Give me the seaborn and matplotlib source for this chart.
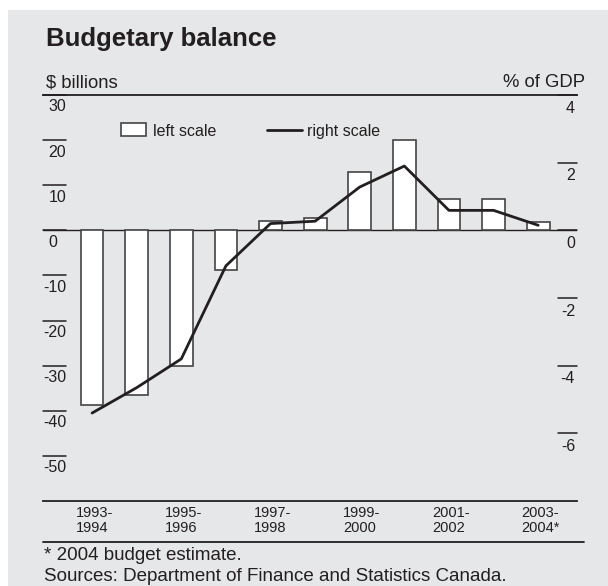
import numpy as np
import pandas as pd
import matplotlib
matplotlib.use("Agg")
import matplotlib.pyplot as plt
import matplotlib.transforms as mtransforms
from matplotlib.patches import Rectangle
from matplotlib.lines import Line2D
import seaborn as sns

# ---------------- data ----------------
years = ["1993-1994", "1994-1995", "1995-1996", "1996-1997", "1997-1998",
         "1998-1999", "1999-2000", "2000-2001", "2001-2002", "2002-2003",
         "2003-2004*"]
balance_billions = [-38.7, -36.6, -30.0, -8.7, 2.1, 2.8, 13.0, 20.1, 6.9, 6.9, 1.8]
balance_pct_gdp = [-5.4, -4.65, -3.8, -1.05, 0.2, 0.27, 1.28, 1.9, 0.59, 0.59, 0.15]
left_ticks = [30, 20, 10, 0, -10, -20, -30, -40, -50]
right_ticks = [4, 2, 0, -2, -4, -6]
x_label_index = [0, 2, 4, 6, 8, 10]
x_labels = ["1993-\n1994", "1995-\n1996", "1997-\n1998", "1999-\n2000",
            "2001-\n2002", "2003-\n2004*"]

# ---------------- style ----------------
sns.set_theme(style="white")
plt.rcParams["font.family"] = ["Liberation Sans", "DejaVu Sans"]
BG = "#e6e7e8"
DARK = "#231f20"
EDGE = "#444444"

W, H = 608, 586
fig = plt.figure(figsize=(W / 100, H / 100), dpi=100, facecolor="white")
fig.patches.append(Rectangle((8 / W, 0), 1, 1 - 10 / H, transform=fig.transFigure,
                             facecolor=BG, edgecolor="none", zorder=-10))

ax = fig.add_axes([43 / W, 1 - 501 / H, 534 / W, 406 / H])
ax.set_facecolor("none")

df = pd.DataFrame({"year": years, "billions": balance_billions, "pct": balance_pct_gdp})
sns.barplot(data=df, x="year", y="billions", order=years, color="white",
            saturation=1, edgecolor=EDGE, linewidth=1.2, width=0.51, ax=ax, zorder=2)
ax.set_ylim(-60, 30)
ax.set_xlim(-1.1, 10.87)
ax.set_xlabel("")
ax.set_ylabel("")

ax2 = ax.twinx()
sns.lineplot(x=np.arange(len(years)), y=balance_pct_gdp, ax=ax2, color=DARK,
             linewidth=2.0, zorder=3)
ax2.set_ylim(-8, 4)
ax2.set_xlim(-1.1, 10.87)
ax2.set_xlabel("")
ax2.set_ylabel("")

for a in (ax, ax2):
    a.tick_params(left=False, right=False, bottom=False, top=False,
                  labelleft=False, labelright=False, labelbottom=False)
    for s in a.spines.values():
        s.set_visible(False)
ax.spines["top"].set_visible(True)
ax.spines["bottom"].set_visible(True)
for s in ("top", "bottom"):
    ax.spines[s].set_color(DARK)
    ax.spines[s].set_linewidth(1.3)

ax.axhline(0, color=DARK, lw=1.0, zorder=1)

tick_fs = 11.5
left_tr = mtransforms.blended_transform_factory(ax.transAxes, ax.transData)
right_tr = mtransforms.blended_transform_factory(ax2.transAxes, ax2.transData)
down = mtransforms.ScaledTranslation(0, -12 / 100, fig.dpi_scale_trans)
for v in left_ticks:
    ax.plot([0, 0.043], [v, v], transform=left_tr, color=DARK, lw=1.1, clip_on=False)
    x0 = 0.0 if v < 0 else 0.0099
    ax.text(x0, v, str(v), transform=left_tr + down, ha="left", va="center",
            fontsize=tick_fs, color=DARK)
down_r = mtransforms.ScaledTranslation(0, -13 / 100, fig.dpi_scale_trans)
for v in right_ticks:
    ax2.plot([0.964, 1.0], [v, v], transform=right_tr, color=DARK, lw=1.1, clip_on=False)
    ax2.text(0.9963, v, str(v), transform=right_tr + down_r, ha="right", va="center",
             fontsize=tick_fs, color=DARK)

# x labels
xl_tr = mtransforms.blended_transform_factory(ax.transData, ax.transAxes) + \
    mtransforms.ScaledTranslation(2.3 / 100, -5 / 100, fig.dpi_scale_trans)
for i, lab in zip(x_label_index, x_labels):
    ax.text(i, 0, lab, transform=xl_tr, ha="center", va="top", multialignment="left",
            fontsize=10.5, linespacing=1.1, color=DARK)

# legend
ax.add_patch(Rectangle((0.1455, 0.899), 0.0468, 0.0328, transform=ax.transAxes,
                       facecolor="white", edgecolor=EDGE, lw=1.2, clip_on=False))
ax.text(0.206, 0.9113, "left scale", transform=ax.transAxes, ha="left", va="center",
        fontsize=11.5, color=DARK)
ax.add_line(Line2D([0.419, 0.4845], [0.9138, 0.9138], transform=ax.transAxes,
                   color=DARK, lw=2.0, clip_on=False))
ax.text(0.4938, 0.9113, "right scale", transform=ax.transAxes, ha="left", va="center",
        fontsize=11.5, color=DARK)

# titles & notes
fig.text(46 / W, 1 - 45.7 / H, "Budgetary balance", fontsize=18.5, fontweight="bold",
         ha="left", va="baseline", color=DARK)
fig.text(46 / W, 1 - 87.5 / H, "$ billions", fontsize=13.3, ha="left", va="baseline",
         color=DARK)
fig.text(585 / W, 1 - 87.3 / H, "% of GDP", fontsize=13.3, ha="right", va="baseline",
         color=DARK)
fig.add_artist(Line2D([43 / W, 584 / W], [1 - 541.7 / H] * 2, transform=fig.transFigure,
                      color=DARK, lw=1.3))
fig.text(44 / W, 1 - 560 / H, "* 2004 budget estimate.", fontsize=13.5, ha="left",
         va="baseline", color=DARK)
fig.text(44 / W, 1 - 581 / H, "Sources: Department of Finance and Statistics Canada.",
         fontsize=13.5, ha="left", va="baseline", color=DARK)

fig.savefig("out.png", dpi=100, facecolor=fig.get_facecolor())
